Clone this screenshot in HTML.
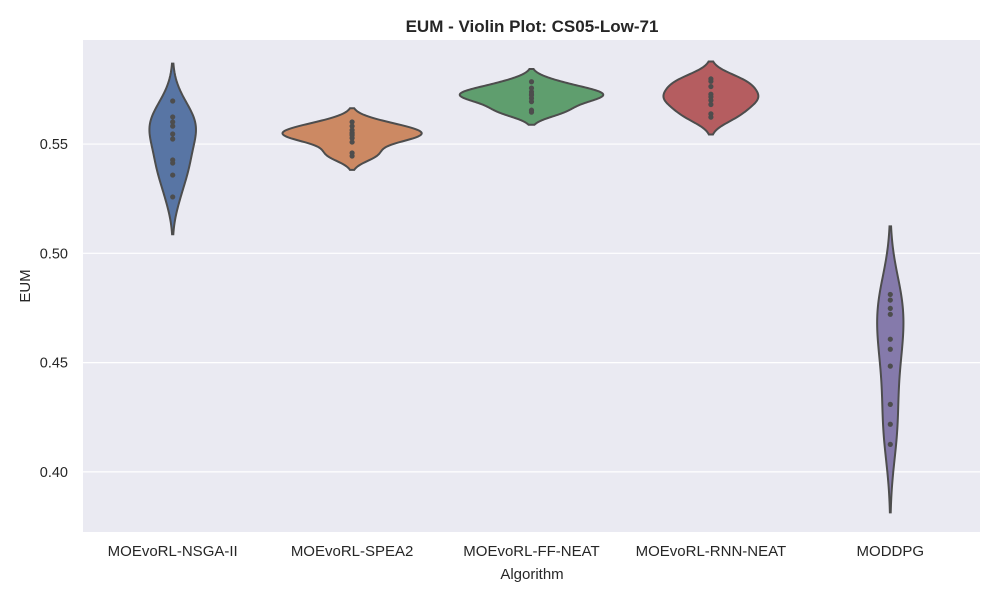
<!DOCTYPE html>
<html><head><meta charset="utf-8"><style>
body{margin:0;background:#fff;}
svg text{font-family:"Liberation Sans",sans-serif;fill:#262626;}
</style></head><body>
<svg id="chart" width="1000" height="600" xmlns="http://www.w3.org/2000/svg">
<rect x="83" y="40" width="897" height="492" fill="#eaeaf2"/>
<g id="grid"></g>
<g id="violins"></g>
<g id="axes"></g>
<text x="532" y="32" text-anchor="middle" font-size="17" font-weight="bold">EUM - Violin Plot: CS05-Low-71</text>
<text x="532" y="579" text-anchor="middle" font-size="15">Algorithm</text>
<text x="30" y="286" text-anchor="middle" font-size="15" transform="rotate(-90 30 286)">EUM</text>
</svg>
<script>
const categories = ["MOEvoRL-NSGA-II","MOEvoRL-SPEA2","MOEvoRL-FF-NEAT","MOEvoRL-RNN-NEAT","MODDPG"];
const nsga2 = [0.5697,0.5624,0.5601,0.5582,0.5546,0.5523,0.5427,0.5413,0.5358,0.5258];
const spea2 = [0.5601,0.5582,0.5564,0.5552,0.5546,0.5540,0.5527,0.5509,0.5459,0.5445];
const ffneat = [0.5785,0.5756,0.5739,0.5728,0.5723,0.5709,0.5694,0.5655,0.5646];
const rnnneat = [0.5798,0.5787,0.5763,0.5728,0.5716,0.5700,0.5681,0.5638,0.5623];
const moddpg = [0.4812,0.4786,0.4748,0.4721,0.4607,0.4561,0.4484,0.4309,0.4218,0.4126];
const yTicks = [0.40,0.45,0.50,0.55];
const yTickLabels = ["0.40","0.45","0.50","0.55"];

const series=[nsga2,spea2,ffneat,rnnneat,moddpg];
const colors=["#5875a4","#cc8963","#5f9e6e","#b55d60","#857aab"];
const NS="http://www.w3.org/2000/svg";
const X0=83,X1=980,Y0=40,Y1=532,ymin=0.3725,ymax=0.5976;
const xs=i=>X0+(i+0.5)*(X1-X0)/categories.length;
const ys=v=>Y1-(v-ymin)/(ymax-ymin)*(Y1-Y0);
const band=(X1-X0)/categories.length;
function mk(tag,attrs,parent){const e=document.createElementNS(NS,tag);for(const k in attrs)e.setAttribute(k,attrs[k]);parent.appendChild(e);return e;}
const grid=document.getElementById('grid'),axes=document.getElementById('axes'),vg=document.getElementById('violins');
yTicks.forEach((t,i)=>{
  const l=mk('line',{x1:X0,x2:X1,y1:ys(t),y2:ys(t),stroke:'#fff','stroke-width':1.2},grid);
  
  
  const tx=mk('text',{x:68,y:ys(t)+5,'text-anchor':'end','font-size':14.5},axes);
  tx.textContent=yTickLabels[i];
  
  
});
categories.forEach((c,i)=>{
  const tx=mk('text',{x:xs(i),y:556,'text-anchor':'middle','font-size':15},axes);
  tx.textContent=c;
  
  
});
const kdes=series.map(d=>{
  const n=d.length,m=d.reduce((a,b)=>a+b)/n;
  const sd=Math.sqrt(d.reduce((a,b)=>a+(b-m)*(b-m),0)/(n-1));
  const bw=sd*Math.pow(n,-0.2);
  const lo=Math.min(...d)-2*bw,hi=Math.max(...d)+2*bw;
  const pts=[];
  for(let k=0;k<=100;k++){const v=lo+(hi-lo)*k/100;let s=0;d.forEach(x=>{const z=(v-x)/bw;s+=Math.exp(-0.5*z*z);});pts.push([v,s/(n*bw*Math.sqrt(2*Math.PI))]);}
  return pts;
});
const gmax=Math.max(...kdes.map(p=>Math.max(...p.map(q=>q[1]))));
const hw=band*0.4;
kdes.forEach((pts,i)=>{
  const cx=xs(i);
  let dstr=pts.map((p,k)=>(k?'L':'M')+(cx+p[1]/gmax*hw).toFixed(2)+','+ys(p[0]).toFixed(2)).join('');
  dstr+=pts.slice().reverse().map(p=>'L'+(cx-p[1]/gmax*hw).toFixed(2)+','+ys(p[0]).toFixed(2)).join('')+'Z';
  const p=mk('path',{d:dstr,fill:colors[i],stroke:'#4d4d4d','stroke-width':2},vg);
  
  
  series[i].forEach(v=>{
    const c=mk('circle',{cx:cx,cy:ys(v),r:2.6,fill:'#4d4d4d'},vg);
    
    
  });
});
</script>
</body></html>
